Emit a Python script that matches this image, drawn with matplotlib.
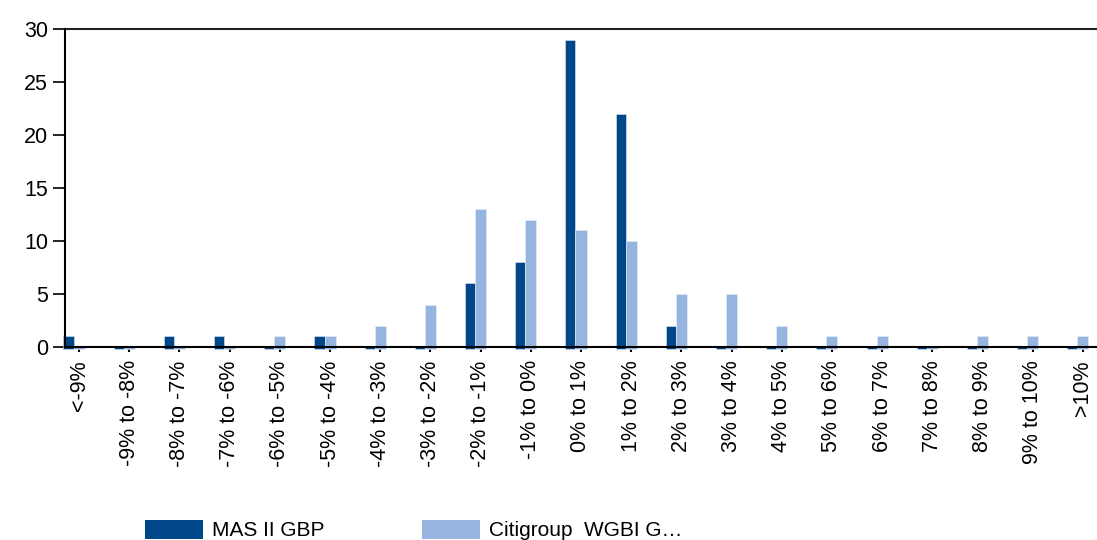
import matplotlib
matplotlib.use("Agg")
import matplotlib.pyplot as plt
import numpy as np
from matplotlib.patches import Patch

categories = ["<-9%", "-9% to -8%", "-8% to -7%", "-7% to -6%", "-6% to -5%", "-5% to -4%",
              "-4% to -3%", "-3% to -2%", "-2% to -1%", "-1% to 0%", "0% to 1%", "1% to 2%",
              "2% to 3%", "3% to 4%", "4% to 5%", "5% to 6%", "6% to 7%", "7% to 8%",
              "8% to 9%", "9% to 10%", ">10%"]
mas = [1, 0, 1, 1, 0, 1, 0, 0, 6, 8, 29, 22, 2, 0, 0, 0, 0, 0, 0, 0, 0]
citi = [0, 0, 0, 0, 1, 1, 2, 4, 13, 12, 11, 10, 5, 5, 2, 1, 1, 0, 1, 1, 1]
series_names = ["MAS II GBP", "Citigroup  WGBI G\u2026"]
yticks = [0, 5, 10, 15, 20, 25, 30]

dark = "#00478a"
light = "#96b5de"

plt.rcParams['font.family'] = ['Liberation Sans', 'DejaVu Sans']

fig = plt.figure(figsize=(10.97, 5.40), dpi=100)
ax = fig.add_axes([65/1097, 1-347/540, 1-65/1097, (347-29)/540])

x = np.arange(len(categories))
base = -0.2
ax.bar(x - 0.21, np.array(mas) + 0.2, bottom=base, width=0.2, color=dark,
       edgecolor="#dfe8f3", linewidth=0.4, clip_on=False, zorder=2)
ax.bar(x, np.array(citi) + 0.2, bottom=base, width=0.22, color=light,
       edgecolor="#e8eef8", linewidth=0.4, clip_on=False, zorder=2)

ax.set_xlim(-0.28, len(categories) - 1 + 0.28)
ax.set_ylim(0, 30)
ax.set_yticks(yticks)
ax.set_xticks(x)
ax.set_xticklabels(categories, rotation=90, ha="center", va="top")

for s in ["left", "bottom"]:
    ax.spines[s].set_linewidth(1.5)
    ax.spines[s].set_color("black")
    ax.spines[s].set_zorder(3)
ax.spines["top"].set_linewidth(1.5)
ax.spines["top"].set_color("#222222")
ax.spines["right"].set_visible(False)

ax.tick_params(axis="y", direction="out", length=8.6, width=1.2, pad=3.5, labelsize=15.5, colors="black")
ax.tick_params(axis="x", direction="out", length=3.6, width=1.5, pad=6, labelsize=15.5, colors="black")

handles = [Patch(facecolor=dark, edgecolor="none"), Patch(facecolor=light, edgecolor="none")]
fig.legend(handles, series_names, loc="upper left", bbox_to_anchor=(145/1097, 1-520/540),
           ncol=2, frameon=False, fontsize=15, handlelength=2.79, handleheight=1.0,
           handletextpad=0.43, columnspacing=4.66, borderpad=0, borderaxespad=0)

fig.savefig("out.png", dpi=100)
